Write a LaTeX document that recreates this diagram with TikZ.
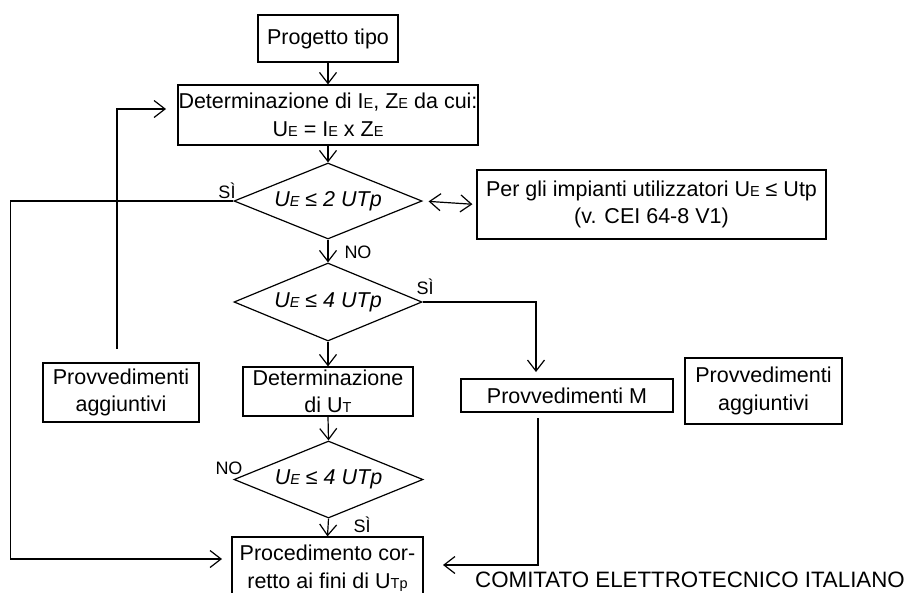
\documentclass[tikz,border=0pt]{standalone}
\usepackage{fontspec}
\setmainfont{Liberation Sans}
\usetikzlibrary{arrows.meta,shapes.geometric}
\newcommand{\sm}[1]{{\fontsize{14.5}{14.5}\selectfont #1}}
\tikzset{
  basefont/.style={font=\fontsize{21.5}{27.5}\selectfont},
  box/.style={draw, line width=1.2pt, basefont, align=center, inner sep=0pt},
  dia/.style={draw, line width=1.2pt, diamond, basefont, inner sep=0pt, aspect=2.47},
  lbl/.style={font=\fontsize{18}{18}\selectfont, inner sep=0pt},
  arr/.style={line width=1.2pt, -{Straight Barb[length=11pt,width=17pt,line width=1.2pt]}},
  barr/.style={line width=1.2pt, {Straight Barb[length=11pt,width=17pt,line width=1.2pt]}-{Straight Barb[length=11pt,width=17pt,line width=1.2pt]}}
}
\begin{document}
\begin{tikzpicture}[x=1pt,y=-1pt]
\useasboundingbox (0,0) rectangle (905,592);
% boxes
\node[box, minimum width=140pt, minimum height=47pt] (prog) at (328,38.5) {Progetto tipo};
\node[box, minimum width=300pt, minimum height=60pt] (det) at (328,115) {Determinazione di I\sm{E}, Z\sm{E} da cui:\\U\sm{E} = I\sm{E} x Z\sm{E}};
\node[dia, minimum width=188pt, minimum height=76pt] (d1) at (328,201) {\itshape U\sm{E} ≤ 2 UTp};
\node[box, minimum width=349pt, minimum height=69pt] (per) at (651.5,204.5) {Per gli impianti utilizzatori U\sm{E} ≤ Utp\\(v. CEI 64-8 V1)};
\node[dia, minimum width=188pt, minimum height=78pt] (d2) at (328,302) {\itshape U\sm{E} ≤ 4 UTp};
\node[box, minimum width=170pt, minimum height=49pt] (detut) at (328,391.5) {Determinazione\\di U\sm{T}};
\node[dia, minimum width=189pt, minimum height=77pt] (d3) at (328.5,479.5) {\itshape U\sm{E} ≤ 4 UTp};
\node[box, minimum width=191pt, minimum height=62pt] (proc) at (327.5,568) {Procedimento cor-\\retto ai fini di U\sm{Tp}};
\node[box, minimum width=212pt, minimum height=33pt] (provm) at (567,395.5) {Provvedimenti M};
\node[box, minimum width=157pt, minimum height=66pt] (aggr) at (763.5,391) {Provvedimenti\\aggiuntivi};
\node[box, minimum width=156pt, minimum height=59pt] (aggl) at (121,392.5) {Provvedimenti\\aggiuntivi};
\node[font=\fontsize{22.3}{22.3}\selectfont, inner sep=0pt] (cei) at (690,580) {COMITATO ELETTROTECNICO ITALIANO};
% labels
\node[lbl] (l1) at (227,191) {SÌ};
\node[lbl] (l2) at (358,252) {NO};
\node[lbl] (l3) at (425,287) {SÌ};
\node[lbl] (l4) at (229,468) {NO};
\node[lbl] (l5) at (362,525) {SÌ};
% coordinates
\coordinate (pL) at (222,559);
\coordinate (mIn) at (536,372);
\coordinate (mOut) at (538,418);
\coordinate (pR) at (443,565);
\coordinate (fbS) at (117,349);
\coordinate (fbE) at (166,109);
% connectors
\draw[arr] (prog.south) -- (det.north);
\draw[arr] (det.south) -- (d1.north);
\draw[arr] (d1.south) -- (d2.north);
\draw[arr] (d2.south) -- (detut.north);
\draw[arr] (detut.south) -- (d3.north);
\draw[arr] (d3.south) -- (proc.north);
\draw[barr, shorten <=6pt, shorten >=4pt] (d1.east) -- (per.west);
\draw[arr] (d1.west) -- ++(-223,0) |- (pL);
\draw[arr] (d2.east) -| (mIn);
\draw[arr] (mOut) |- (pR);
\draw[arr] (fbS) |- (fbE);
\end{tikzpicture}
\end{document}
